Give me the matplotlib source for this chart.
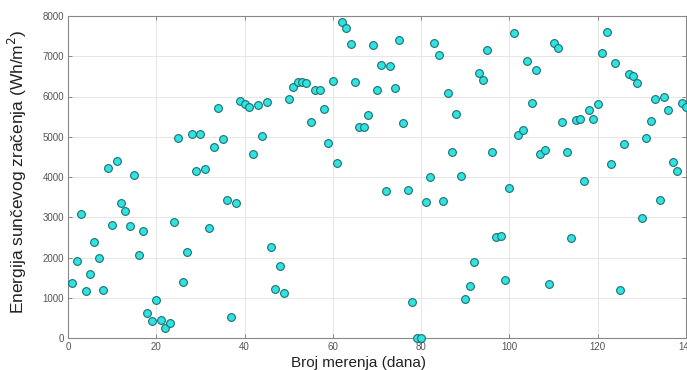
import numpy as np
import matplotlib
matplotlib.use("Agg")
import matplotlib.pyplot as plt

plt.rcParams['font.family'] = ['Liberation Sans', 'DejaVu Sans']

days = np.arange(1, 141)
energy = [
    1370, 1920, 3070, 1180, 1590, 2380, 1990, 1195, 4220, 2800,
    4400, 3350, 3150, 2780, 4060, 2060, 2650, 620, 415, 940,
    456, 257, 382, 2880, 4970, 1400, 2140, 5080, 4140, 5080,
    4210, 2740, 4740, 5720, 4950, 3440, 520, 3360, 5890, 5820,
    5740, 4570, 5780, 5020, 5870, 2270, 1210, 1780, 1110, 5930,
    6240, 6370, 6360, 6340, 5360, 6170, 6150, 5690, 4840, 6390,
    4340, 7840, 7710, 7310, 6350, 5230, 5230, 5540, 7290, 6160,
    6780, 3650, 6750, 6220, 7410, 5340, 3670, 890, 0, 0,
    3370, 4010, 7330, 7020, 3410, 6090, 4610, 5560, 4030, 970,
    1300, 1880, 6580, 6420, 7150, 4610, 2520, 2540, 1430, 3720,
    7570, 5050, 5170, 6890, 5850, 6660, 4580, 4670, 1350, 7340,
    7210, 5360, 4630, 2480, 5410, 5440, 3890, 5670, 5430, 5810,
    7070, 7600, 4320, 6840, 1195, 4810, 6570, 6520, 6340, 2970,
    4970, 5390, 5930, 3440, 5990, 5660, 4370, 4150, 5850, 5740,
]
xticks = [0, 20, 40, 60, 80, 100, 120, 140]
yticks = [0, 1000, 2000, 3000, 4000, 5000, 6000, 7000, 8000]

fig = plt.figure(figsize=(6.87, 3.70), dpi=100)
ax = fig.add_axes([68/687, 32/370, 618/687, 322/370])

ax.plot(days, energy, 'o', ms=5.6, mfc='#2fe3e0', mec='#1f6f72', mew=0.8,
        zorder=3, clip_on=False)

ax.set_xlim(0, 140)
ax.set_ylim(0, 8000)
ax.set_xticks(xticks)
ax.set_yticks(yticks)
ax.grid(True, color='#e6e6e6', lw=0.7)
ax.set_axisbelow(True)
ax.tick_params(direction='in', length=3, width=0.6, color='#777777',
               labelsize=7, labelcolor='#555555', top=True, right=True, pad=3)
for s in ax.spines.values():
    s.set_color('#888888')
    s.set_linewidth(0.8)

ax.set_xlabel('Broj merenja (dana)', fontsize=11, color='#222222')
ax.xaxis.set_label_coords(0.47, -0.055, transform=ax.transAxes)
ax.xaxis.label.set_va('top')
fig.text(17/687, 1 - 172/370, 'Energija sunčevog zračenja (Wh/m$^2$)',
         rotation=90, ha='center', va='center', fontsize=12.5, color='#222222')

fig.savefig('out.png', dpi=100)
